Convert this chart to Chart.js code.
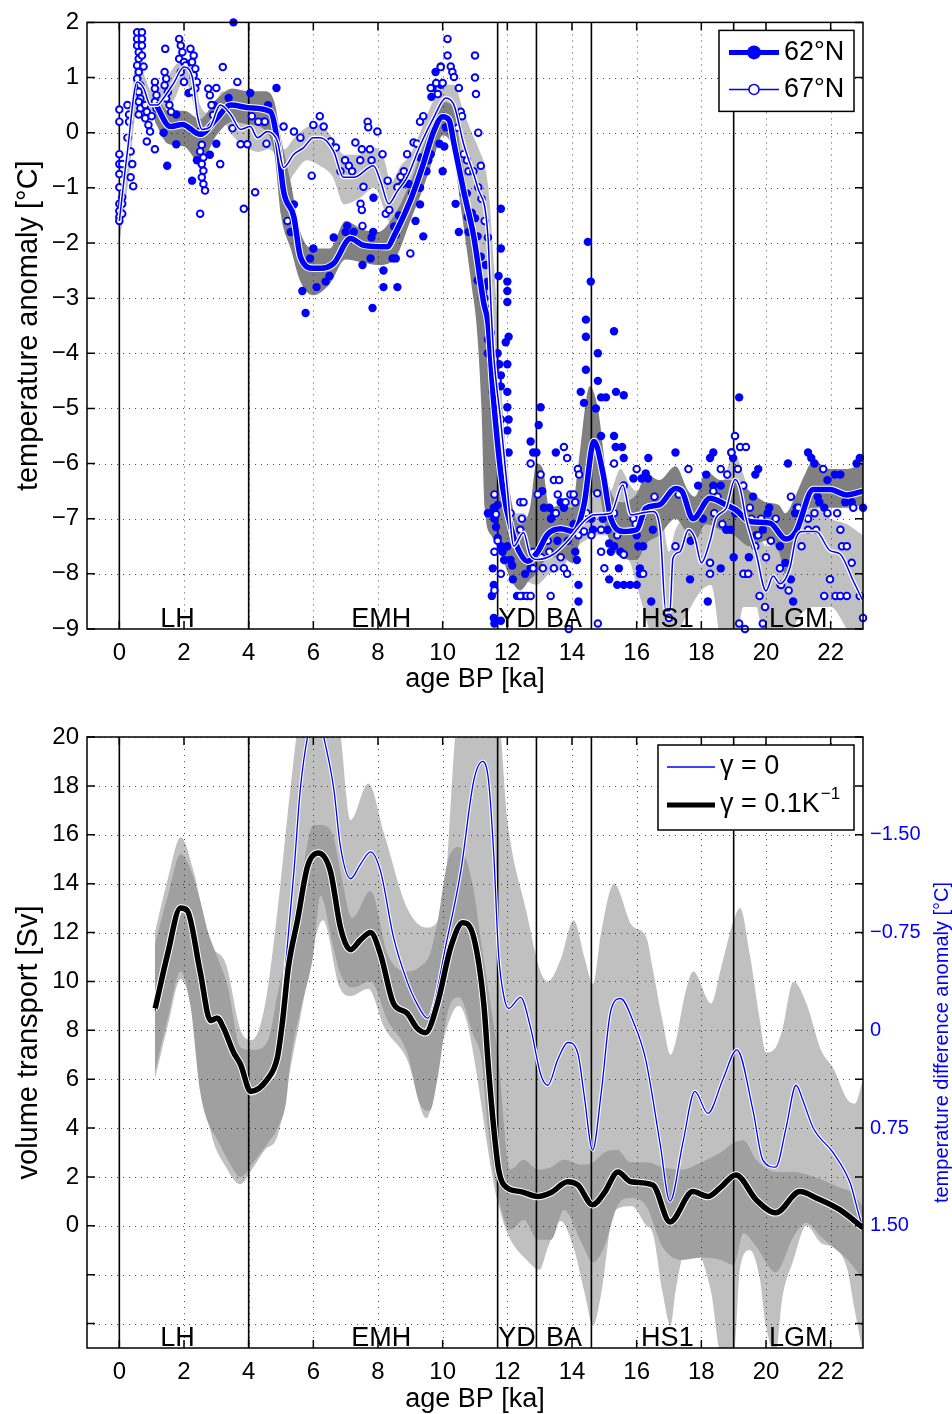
<!DOCTYPE html>
<html>
<head>
<meta charset="utf-8">
<title>Temperature anomaly and volume transport</title>
<script src="https://cdn.jsdelivr.net/npm/chart.js@4.4.1/dist/chart.umd.min.js"></script>
<style>
  body { margin: 0; background: #fff; }
  canvas { display: block; }
</style>
</head>
<body>
<canvas id="temp" width="952" height="700"></canvas>
<canvas id="transport" width="952" height="714"></canvas>
<script>
// ---- axes and period markers ----
const ageTicks = [0, 2, 4, 6, 8, 10, 12, 14, 16, 18, 20, 22];
const tempTicks = [-9, -8, -7, -6, -5, -4, -3, -2, -1, 0, 1, 2];
const transportTicks = [-4, -2, 0, 2, 4, 6, 8, 10, 12, 14, 16, 18, 20];
const diffTicks = [-1.5, -0.75, 0, 0.75, 1.5];
const diffTickLabels = ['\u22121.50', '\u22120.75', '0', '0.75', '1.50'];

const eventAges = [0, 4, 11.7, 12.9, 14.6, 19];
const periodNames = ['LH', 'EMH', 'YD', 'BA', 'HS1', 'LGM'];
const periodAges = [1.8, 8.1, 12.3, 13.75, 16.95, 21.0];

const seriesNames = ['62\u00b0N', '67\u00b0N'];

// ---- temperature anomaly, smoothed curves ----
const t62Age = [1.11, 1.58, 1.95, 2.5, 3.0, 3.44, 4.05, 4.67, 4.9, 5.08, 5.4, 5.6, 6.0, 6.22, 6.63,
  7.15, 7.55, 8.3, 8.48, 9.0, 9.4, 9.72, 10.0, 10.2, 10.35, 10.65, 10.96, 11.27, 11.4, 11.58,
  11.86, 12.17, 12.41, 12.63, 12.94, 13.25, 13.65, 14.05, 14.37, 14.68, 14.95, 15.2, 15.6, 16.0, 16.28,
  16.7, 17.2, 17.4, 17.74, 18.27, 18.77, 19.07, 19.5, 20.12, 20.62, 20.93, 21.46, 21.98, 22.5, 23.0];
const t62Temp = [0.54, 0.11, 0.15, -0.03, 0.25, 0.5, 0.45, 0.38, -0.2, -1.06, -1.53, -2.25, -2.46, -2.46, -2.37,
  -1.92, -2.04, -2.07, -1.89, -1.23, -0.57, 0.02, 0.29, 0.23, -0.2, -1.06, -1.88, -3.09, -3.45, -4.89,
  -6.45, -7.28, -7.64, -7.77, -7.6, -7.28, -7.18, -7.23, -6.75, -5.6, -6.15, -6.99, -7.23, -7.2, -6.81,
  -6.75, -6.45, -6.5, -7.0, -6.63, -6.75, -6.84, -7.05, -7.08, -7.37, -7.23, -6.47, -6.47, -6.57, -6.5];

const t67Age = [0.0, 0.25, 0.55, 0.75, 0.96, 1.17, 1.37, 1.68, 2.0, 2.26, 2.41, 2.56, 2.8, 3.12, 3.44,
  3.75, 4.05, 4.27, 4.58, 4.89, 5.08, 5.4, 5.7, 6.0, 6.22, 6.63, 6.93, 7.25, 7.86, 8.08,
  8.33, 8.6, 8.9, 9.32, 9.72, 10.1, 10.35, 10.65, 11.08, 11.4, 11.49, 11.58, 11.8, 12.0, 12.2,
  12.5, 12.7, 12.94, 13.44, 13.87, 14.37, 14.68, 15.2, 15.57, 15.82, 16.13, 16.5, 16.72, 16.9, 17.03,
  17.12, 17.34, 17.6, 17.8, 18.0, 18.27, 18.45, 18.77, 19.04, 19.2, 19.38, 19.7, 20.0, 20.22, 20.43,
  20.74, 20.93, 21.15, 21.55, 21.98, 22.29, 22.7, 23.0];
const t67Temp = [-1.6, -0.34, 0.92, 0.81, 0.5, 0.5, 0.63, 0.9, 1.19, 1.0, 0.33, 0.06, 0.1, 0.5, 0.33,
  0.06, 0.11, -0.09, 0.02, -0.16, -0.63, -0.39, -0.27, -0.09, -0.09, -0.34, -0.81, -0.81, -0.6, -0.88,
  -1.29, -1.06, -0.81, -0.21, 0.27, 0.63, 0.5, -0.21, -0.99, -1.88, -3.09, -4.04, -5.25, -6.45, -7.5,
  -7.25, -7.65, -7.74, -7.64, -7.4, -7.05, -6.93, -6.9, -6.39, -6.93, -6.9, -6.87, -7.17, -8.67, -8.67,
  -7.72, -7.6, -7.2, -7.35, -7.8, -7.4, -6.99, -6.81, -6.29, -6.45, -6.99, -7.64, -8.31, -8.04, -8.18,
  -7.89, -7.35, -7.23, -7.23, -7.58, -7.64, -8.13, -8.49];

// ---- temperature anomaly, uncertainty bands ----
const t67BandAge = [0.0, 0.3, 0.55, 0.8, 1.0, 1.3, 1.7, 2.0, 2.3, 2.5, 2.8, 3.2, 3.5, 3.9, 4.3,
  4.6, 4.9, 5.1, 5.4, 5.8, 6.2, 6.6, 6.95, 7.4, 7.9, 8.2, 8.4, 8.7, 9.0, 9.3,
  9.7, 10.1, 10.35, 10.65, 10.9, 11.1, 11.4, 11.6, 11.8, 12.0, 12.2, 12.5, 12.9, 13.3, 13.7,
  14.0, 14.4, 14.8, 15.2, 15.5, 15.8, 16.0, 16.5, 16.8, 17.0, 17.2, 17.5, 18.0, 18.3, 18.7,
  19.0, 19.3, 19.7, 20.0, 20.5, 21.0, 21.5, 22.0, 22.5, 23.0];
const t67BandHi = [-1.2, 0.1, 1.4, 1.0, 0.75, 0.85, 1.2, 1.35, 1.2, 0.5, 0.35, 0.75, 0.6, 0.35, 0.15,
  0.25, 0.1, -0.3, -0.1, 0.1, 0.15, -0.1, -0.4, -0.4, -0.27, -0.5, -0.9, -0.6, -0.4, 0.0,
  0.56, 0.87, 0.87, 0.38, 0.0, -0.27, -0.93, -2.5, -4.5, -6.0, -6.9, -6.9, -7.2, -7.0, -6.8,
  -6.6, -6.6, -6.6, -6.5, -6.1, -6.4, -6.5, -6.5, -7.0, -7.6, -7.2, -7.0, -7.2, -6.7, -6.3,
  -5.8, -6.2, -7.0, -7.5, -7.3, -6.8, -6.8, -7.0, -7.1, -7.3];
const t67BandLo = [-2.0, -0.8, 0.45, 0.45, 0.3, 0.35, 0.6, 0.95, 0.5, -0.2, -0.2, 0.2, -0.05, -0.25, -0.35,
  -0.3, -0.5, -1.0, -0.75, -0.5, -0.6, -0.8, -1.3, -1.2, -1.0, -1.4, -1.65, -1.35, -1.06, -0.6,
  -0.1, 0.27, 0.1, -0.75, -1.4, -2.3, -3.5, -5.5, -7.0, -7.8, -8.0, -8.1, -8.2, -8.0, -7.9,
  -7.6, -7.4, -7.3, -7.3, -7.6, -7.8, -8.2, -9.2, -9.5, -9.5, -9.2, -8.8, -8.3, -8.2, -9.5,
  -9.5, -8.6, -8.6, -9.5, -9.5, -8.8, -8.6, -8.6, -9.0, -9.5];

const t62BandAge = [1.1, 1.5, 2.0, 2.5, 3.0, 3.5, 4.0, 4.5, 4.8, 5.0, 5.3, 5.6, 6.0, 6.5, 7.0,
  7.5, 8.0, 8.5, 9.0, 9.4, 9.75, 10.0, 10.3, 10.6, 10.9, 11.05, 11.2, 11.3, 11.5, 11.7,
  11.9, 12.1, 12.4, 12.7, 12.9, 13.1, 13.3, 13.7, 14.0, 14.2, 14.55, 14.8, 15.1, 15.5, 16.0,
  16.3, 16.7, 17.2, 17.6, 17.8, 18.15, 18.6, 19.0, 19.5, 20.0, 20.4, 20.6, 20.9, 21.2, 21.45,
  22.0, 22.5, 23.0];
const t62BandHi = [0.75, 0.4, 0.4, 0.25, 0.6, 0.8, 0.75, 0.75, 0.55, -0.1, -0.9, -1.8, -2.1, -2.1, -1.6,
  -1.75, -1.8, -1.5, -0.9, -0.25, 0.3, 0.55, 0.5, -0.5, -1.5, -1.9, -2.4, -2.8, -3.5, -4.5,
  -5.6, -6.6, -7.1, -6.8, -6.0, -6.1, -6.8, -6.75, -6.8, -6.0, -4.6, -5.0, -6.3, -6.7, -6.55,
  -6.2, -6.3, -6.05, -6.5, -6.6, -6.15, -6.3, -6.3, -6.5, -6.7, -6.75, -6.9, -6.6, -6.2, -5.95,
  -6.1, -6.1, -6.0];
const t62BandLo = [0.2, -0.2, -0.25, -0.55, -0.05, 0.2, 0.15, 0.05, -0.4, -1.5, -2.1, -2.7, -2.95, -2.75, -2.3,
  -2.35, -2.4, -2.3, -1.6, -1.0, -0.4, -0.05, -0.3, -1.5, -2.8, -3.5, -5.0, -6.8, -7.3, -7.5,
  -7.8, -8.1, -8.3, -8.1, -8.0, -7.8, -7.7, -7.7, -7.8, -7.5, -6.6, -6.5, -7.3, -7.7, -7.75,
  -7.45, -7.3, -7.0, -7.3, -7.4, -7.1, -7.2, -7.3, -7.5, -7.4, -7.6, -8.0, -7.6, -6.9, -6.8,
  -6.8, -6.8, -6.75];

// ---- temperature anomaly, individual samples [age, value] ----
const samples62 = [
  [1.76, 0.33], [1.37, 0.0], [1.76, -0.21], [1.48, -0.6], [2.14, 0.72], [2.25, -0.87], [2.4, -0.5], [2.8, -0.4],
  [2.92, 0.5], [3.0, -0.2], [3.38, 0.63], [3.53, 2.0], [4.05, 0.72], [4.47, 0.2], [4.6, 0.5], [4.86, 0.81],
  [5.66, -2.87], [5.76, -3.27], [5.9, -2.28], [6.0, -2.1], [6.1, -2.8], [5.4, -1.3], [5.3, -1.8],
  [6.38, -2.7], [6.5, -2.6], [6.63, -1.9], [7.05, -1.69], [7.0, -1.8], [7.25, -1.8], [7.52, -2.4], [7.77, -2.28],
  [7.8, -1.9], [7.85, -1.8], [7.86, -1.18], [7.83, -3.18], [8.17, -2.5], [8.17, -2.8], [8.45, -2.28], [8.55, -2.28],
  [8.6, -2.8], [8.5, -1.7], [8.55, -1.85], [8.65, -1.5], [8.76, -0.93], [8.95, -0.93], [9.05, -1.1], [9.16, -1.6],
  [9.3, -1.3], [9.4, -1.88], [9.3, -1.0], [9.5, -0.7], [9.55, -0.5], [9.63, -0.39], [9.3, -0.45], [9.69, 0.81],
  [9.65, 0.65], [9.78, 1.1], [9.94, 0.87], [9.94, 1.2], [10.0, -0.7], [9.9, -0.2], [10.05, -0.25], [10.1, 0.1],
  [10.4, -1.29], [10.5, -1.8], [10.65, -1.11], [10.75, -1.1], [10.77, -1.53], [10.8, -1.8], [10.9, -1.45], [11.0, -1.55],
  [11.08, -1.88], [11.08, -2.68], [11.18, -2.25], [11.24, -2.9], [11.3, -3.0], [11.3, -2.8], [11.33, -3.18], [11.33, -2.4],
  [11.4, -2.7], [11.8, -1.38], [11.8, -2.1], [11.73, -2.6], [12.0, -2.7], [12.0, -2.87], [12.0, -3.07],
  [14.49, -1.98], [14.58, -2.7], [14.43, -3.39],
  [11.4, -3.75], [11.4, -4.0], [11.5, -4.2], [11.6, -4.3], [11.7, -4.0], [11.75, -4.2], [11.8, -4.4], [11.8, -4.6],
  [12.0, -4.2], [12.0, -4.7], [12.0, -4.98], [12.04, -5.2], [12.0, -5.4], [12.04, -5.8], [12.04, -3.7], [11.95, -3.8],
  [11.58, -6.8], [11.4, -6.9], [11.5, -6.9], [11.7, -6.75], [11.6, -7.0], [11.65, -7.15], [11.7, -7.35], [11.8, -7.5],
  [11.85, -7.6], [11.9, -7.75], [11.55, -7.9], [11.58, -8.2], [11.52, -8.4], [11.58, -8.8], [11.6, -8.9], [11.8, -8.85],
  [12.0, -7.5], [12.1, -7.75], [12.15, -7.85], [12.17, -8.1], [12.3, -8.4], [12.48, -8.4], [12.55, -8.0], [12.72, -7.9],
  [12.72, -5.6], [12.8, -5.8], [12.9, -5.8], [12.97, -5.3], [13.03, -4.98], [13.08, -6.5], [13.13, -6.8], [13.3, -6.8],
  [13.35, -7.0], [13.45, -6.9], [13.5, -5.8], [13.5, -7.2], [13.55, -7.4], [13.65, -6.7], [13.75, -6.8], [13.87, -7.4],
  [14.05, -7.1], [14.1, -7.6], [14.15, -7.75], [14.2, -8.2], [14.2, -8.5], [14.27, -4.7], [14.37, -4.9], [14.43, -4.3],
  [14.43, -3.7], [14.6, -7.0], [14.65, -7.2], [14.8, -4.0], [14.8, -4.5], [14.74, -5.0], [14.9, -4.8], [15.05, -4.8],
  [14.9, -5.5], [14.95, -7.0], [15.1, -7.2], [15.15, -7.45], [15.3, -5.5], [15.35, -5.7], [15.36, -4.7], [15.3, -3.6],
  [15.6, -4.76], [15.55, -5.7], [15.6, -5.9], [15.2, -7.6], [15.3, -7.5], [15.45, -7.9], [15.5, -7.6], [15.6, -7.65],
  [15.6, -8.2], [15.4, -8.2], [15.15, -8.1], [15.8, -8.2], [16.0, -7.3], [16.05, -7.5], [16.1, -7.9],
  [15.9, -6.27], [16.15, -6.27], [16.28, -6.18], [16.35, -6.27], [16.2, -7.5], [16.1, -8.0], [16.0, -8.2], [16.5, -7.2],
  [16.36, -5.9], [16.45, -8.5], [17.2, -5.8], [17.67, -7.4], [17.65, -8.1], [17.9, -6.4], [18.05, -7.0], [18.15, -6.2],
  [18.2, -8.5], [18.27, -5.9], [18.37, -5.8], [18.37, -6.4], [18.6, -6.4], [18.6, -7.9], [18.77, -7.2], [18.9, -7.2],
  [18.93, -5.8], [18.98, -5.9], [19.0, -7.7], [19.05, -6.9], [19.17, -4.8], [19.47, -7.7], [19.35, -8.0], [19.45, -8.0],
  [19.6, -6.6], [19.67, -6.2], [19.76, -6.1], [19.7, -7.3], [19.9, -7.2], [20.05, -6.9], [20.1, -6.8], [20.43, -7.5],
  [20.45, -8.2], [20.6, -7.8], [20.68, -6.0], [20.77, -8.1], [20.84, -8.5], [20.9, -6.9], [20.95, -6.8], [21.3, -5.8],
  [21.4, -5.9], [21.5, -6.0], [21.6, -6.6], [21.65, -6.7], [21.8, -6.8], [21.9, -6.3], [22.13, -6.2], [22.3, -6.2],
  [22.45, -6.7], [22.65, -6.7], [22.8, -6.0], [22.9, -5.9], [23.0, -6.8]
];
const samples67 = [
  [0.0, 0.42], [0.0, 0.2], [0.0, -0.39], [0.0, -0.57], [0.0, -0.75], [0.0, -0.99], [0.0, -1.29], [0.0, -1.42],
  [0.0, -1.53], [0.0, -1.6], [0.09, -0.57], [0.09, -1.17], [0.09, -1.29], [0.09, -1.47],
  [0.25, 0.5], [0.3, 0.33], [0.3, 0.2], [0.25, -0.09], [0.35, -0.34], [0.4, -0.57], [0.35, -0.81], [0.43, -0.97],
  [0.55, 1.82], [0.55, 1.7], [0.55, 1.58], [0.6, 1.46], [0.6, 1.34], [0.55, 1.22], [0.6, 1.1], [0.55, 0.98],
  [0.65, 0.86], [0.6, 0.74], [0.65, 0.62], [0.6, 0.56], [0.65, 0.44], [0.6, 0.33],
  [0.7, 1.82], [0.7, 1.7], [0.7, 1.58], [0.7, 1.4], [0.75, 1.2],
  [0.8, 0.5], [0.85, 0.38], [0.8, 0.26], [0.9, 0.14], [0.95, 0.02], [0.85, -0.16], [1.0, 0.3],
  [1.1, 0.92], [1.1, 0.8], [1.15, 0.68], [1.1, 0.56], [1.15, 0.44], [1.1, -0.3],
  [1.4, 1.1], [1.45, 0.98], [1.4, 0.86], [1.5, 0.74], [1.45, 0.62], [1.55, 0.5], [1.6, 0.38], [1.42, 1.52],
  [1.85, 1.7], [1.9, 1.58], [1.95, 1.46], [1.85, 1.34], [2.0, 1.28], [2.05, 1.22], [1.9, 1.1], [2.0, 0.92],
  [2.2, 1.52], [2.3, 1.4], [2.25, 1.28], [2.35, 1.16], [2.3, 1.04], [2.4, 0.92], [2.35, 0.8], [2.25, 0.74],
  [2.5, 0.02], [2.55, -0.22], [2.5, -0.34], [2.6, -0.45], [2.55, -0.57], [2.6, -0.69], [2.55, -0.81], [2.6, -0.93],
  [2.65, -1.05], [2.5, -1.47], [2.75, 0.8], [2.8, 0.68], [2.85, 0.5], [2.9, 0.32], [3.12, -0.57], [3.0, 0.81],
  [3.2, 1.19], [3.65, 0.92], [3.5, 0.08], [3.75, -0.21], [3.85, -1.38], [3.96, -0.21], [4.2, -1.08], [4.1, 0.3],
  [4.3, 0.2], [4.5, 0.2], [4.55, -0.2], [5.08, 0.11], [5.2, -1.6], [5.4, 0.02], [5.6, -0.09], [5.95, -0.78],
  [6.0, 0.14], [6.2, 0.3], [6.32, 0.11], [6.53, -0.16], [6.7, -0.27], [6.84, -0.7], [6.98, -0.5], [7.1, -0.6],
  [7.2, -0.7], [7.3, -0.18], [7.45, -0.5], [7.5, -0.3], [7.55, -0.98], [7.68, 0.2], [7.7, 0.1], [7.75, -0.3],
  [7.8, -0.5], [7.98, 0.02], [8.14, -0.39], [8.3, -0.87], [7.46, -1.29], [7.5, -1.4], [7.52, -1.69], [8.24, -1.47],
  [8.35, -1.4], [9.0, -2.19], [8.6, -0.99], [8.7, -0.8], [8.8, -0.7], [8.9, -0.39], [9.1, -0.18], [9.2, -0.2],
  [9.3, 0.2], [9.4, 0.3], [9.63, 0.81], [9.8, 0.9], [9.85, 0.7], [9.94, 1.19], [10.0, 0.9], [10.15, 1.7],
  [10.15, 1.4], [10.25, 1.2], [10.3, 1.1], [10.35, 1.01], [10.5, 0.81], [10.56, 0.38], [10.6, 0.3], [10.46, 0.09],
  [10.65, -0.39], [10.75, -0.5], [10.8, -0.7], [10.95, -0.7], [11.0, 1.4], [11.0, 1.0], [11.03, 0.7], [11.1, 0.0],
  [11.18, -0.6], [11.1, -0.99], [11.2, -1.2], [11.3, -1.6], [11.4, -1.9],
  [11.49, -3.63], [11.55, -4.2], [11.55, -4.7], [11.7, -4.5], [11.8, -5.2], [11.6, -6.56], [11.65, -6.92], [11.7, -7.4],
  [11.6, -7.6], [11.8, -8.0], [11.6, -8.3], [12.1, -6.9], [12.4, -6.7], [12.5, -6.7], [12.45, -7.0], [12.4, -7.2],
  [12.72, -6.0], [12.8, -7.9], [12.4, -8.4], [12.6, -8.4], [12.72, -8.4], [12.8, -7.6], [12.94, -6.56], [13.03, -6.2],
  [13.05, -7.7], [13.1, -7.9], [13.25, -7.4], [13.3, -7.6], [13.44, -6.3], [13.6, -6.3], [13.34, -8.4], [13.44, -7.9],
  [13.5, -6.9], [13.56, -6.56], [13.65, -7.7], [13.75, -7.9], [13.75, -5.7], [13.85, -5.9], [13.8, -6.7], [13.85, -8.0],
  [13.95, -6.56], [14.05, -6.56], [14.1, -6.7], [14.18, -6.1], [14.22, -6.2], [14.2, -7.3], [14.37, -7.23], [14.4, -7.0],
  [14.45, -6.9], [14.6, -7.3], [14.8, -8.9], [13.9, -9.0], [14.78, -6.54], [14.9, -7.2], [14.9, -7.6], [15.0, -7.9],
  [15.3, -6.9], [15.3, -6.0], [15.6, -6.4], [15.4, -7.3], [15.6, -7.65], [15.9, -7.0], [16.0, -6.1],
  [15.97, -7.1], [16.2, -8.0], [16.55, -6.6], [17.2, -7.5], [17.0, -8.8], [17.6, -6.1], [17.3, -6.56], [18.27, -7.8],
  [18.27, -8.0], [18.4, -6.9], [18.37, -6.5], [18.5, -6.6], [18.6, -6.1], [18.65, -7.1], [18.8, -6.2], [18.93, -5.8],
  [19.04, -5.5], [19.2, -5.7], [19.38, -5.7], [19.13, -6.1], [19.3, -6.4], [19.3, -8.0], [19.45, -8.0], [19.5, -6.8],
  [19.55, -7.0], [19.67, -7.5], [19.76, -7.3], [19.8, -8.4], [19.85, -7.0], [19.9, -8.9], [19.97, -8.6], [20.0, -7.7],
  [20.15, -7.4], [20.3, -7.0], [20.43, -7.9], [20.47, -8.2], [20.7, -8.3], [20.77, -6.6], [21.0, -6.8], [21.1, -7.5],
  [21.3, -7.0], [21.3, -7.2], [21.5, -6.9], [21.55, -7.2], [21.77, -6.1], [21.9, -6.9], [21.98, -8.1], [21.8, -8.4],
  [22.15, -8.4], [22.3, -8.4], [22.5, -8.4], [22.2, -6.9], [22.3, -7.2], [22.35, -7.5], [22.5, -7.5], [22.65, -7.8],
  [22.7, -6.8], [22.9, -8.4], [23.0, -8.8], [19.17, -8.9], [19.35, -9.0]
];

// ---- volume transport [Sv] ----
const gamma01Age = [1.11, 1.49, 1.89, 2.1, 2.5, 2.82, 3.03, 3.22, 3.53, 3.75, 4.06, 4.58, 4.89, 5.05, 5.23,
  5.51, 5.82, 6.15, 6.53, 6.84, 7.15, 7.46, 7.77, 8.08, 8.48, 8.9, 9.2, 9.47, 9.84, 10.25,
  10.62, 10.96, 11.27, 11.42, 11.58, 11.73, 12.0, 12.41, 12.94, 13.34, 13.87, 14.18, 14.64, 15.0, 15.42,
  15.82, 16.5, 17.03, 17.74, 18.2, 18.58, 19.07, 19.7, 20.3, 21.05, 21.55, 22.29, 23.0];
const gamma01Sv = [8.9, 11.1, 13.0, 12.9, 10.4, 8.4, 8.5, 8.1, 7.1, 6.6, 5.5, 6.0, 6.9, 8.4, 10.6,
  12.5, 14.7, 15.25, 14.5, 12.2, 11.3, 11.7, 12.0, 11.1, 9.1, 8.7, 8.1, 7.9, 9.1, 11.4,
  12.4, 11.8, 9.1, 6.4, 4.0, 2.3, 1.55, 1.4, 1.2, 1.35, 1.8, 1.67, 0.86, 1.35, 2.2,
  1.8, 1.67, 0.16, 1.4, 1.2, 1.55, 2.08, 1.06, 0.53, 1.4, 1.14, 0.65, -0.08];

const gamma0Age = [1.11, 1.49, 1.89, 2.1, 2.5, 2.82, 3.03, 3.22, 3.53, 3.75, 4.06, 4.58, 4.89, 5.08, 5.4,
  5.6, 5.9, 6.1, 6.32, 6.63, 6.84, 7.15, 7.46, 7.77, 8.08, 8.48, 8.9, 9.2, 9.53, 10.15,
  10.56, 10.96, 11.24, 11.42, 11.58, 11.73, 11.9, 12.04, 12.41, 12.72, 13.03, 13.25, 13.56, 13.87, 14.18,
  14.37, 14.64, 14.9, 15.2, 15.5, 15.91, 16.28, 16.72, 17.03, 17.43, 17.8, 18.2, 18.67, 19.1, 19.6,
  19.9, 20.3, 20.62, 20.93, 21.15, 21.46, 22.07, 22.6, 22.94, 23.0];
const gamma0Sv = [8.8, 11.0, 12.9, 12.8, 10.3, 8.3, 8.4, 8.0, 7.0, 6.5, 5.4, 5.9, 6.8, 9.75, 14.5,
  17.9, 20.5, 21.0, 20.0, 17.9, 15.5, 14.2, 14.8, 15.3, 14.5, 11.8, 10.0, 9.1, 8.5, 11.8,
  14.5, 18.2, 19.0, 18.2, 15.2, 11.1, 9.35, 8.9, 9.35, 8.1, 6.2, 5.75, 6.8, 7.5, 7.06,
  5.4, 3.1, 5.4, 8.8, 9.3, 8.3, 6.8, 3.4, 1.0, 3.4, 5.5, 4.6, 6.0, 7.2, 4.7,
  2.7, 2.4, 4.0, 5.75, 5.1, 4.0, 3.0, 1.76, 0.16, 0.0];

const wideBandAge = [1.1, 1.5, 1.9, 2.3, 2.8, 3.3, 3.75, 4.1, 4.5, 4.9, 5.3, 5.6, 6.3, 6.8, 7.15,
  7.7, 8.2, 8.9, 9.5, 10.0, 10.5, 11.7, 12.0, 12.6, 13.0, 13.25, 13.65, 14.05, 14.4, 14.65,
  14.9, 15.3, 15.85, 16.3, 16.5, 16.8, 17.05, 17.2, 17.5, 17.75, 18.3, 18.6, 19.0, 19.2, 19.5,
  19.8, 20.0, 20.3, 20.5, 20.85, 21.25, 21.7, 22.1, 22.5, 22.75, 23.0];
const wideBandHi = [12.0, 14.2, 15.9, 14.5, 11.6, 10.7, 8.0, 7.6, 9.0, 13.0, 18.0, 21.0, 22.0, 20.5, 16.6,
  18.1, 16.0, 13.0, 12.2, 13.0, 21.0, 21.0, 16.6, 12.8, 10.5, 10.0, 10.9, 12.5, 10.9, 9.9,
  12.0, 14.0, 12.3, 11.8, 10.5, 8.4, 7.0, 7.5, 9.5, 10.4, 9.1, 10.5, 12.5, 13.0, 11.1,
  8.5, 7.1, 7.3, 8.0, 10.0, 9.1, 7.2, 6.4, 5.2, 5.0, 6.0];
const wideBandLo = [6.0, 8.2, 10.1, 8.5, 4.0, 2.4, 1.7, 2.3, 3.1, 3.7, 6.5, 8.5, 12.5, 9.8, 9.4,
  9.7, 8.1, 6.8, 4.4, 7.5, 9.0, 1.0, -0.3, -1.4, -1.8, -0.9, 0.2, -0.9, -2.8, -4.1,
  -2.8, 0.6, 0.8, 0.0, -0.3, -2.7, -4.1, -2.7, -1.0, -0.9, -2.7, -5.2, -5.2, -1.7, -1.0,
  -2.1, -4.1, -5.2, -3.0, -1.4, 0.0, -0.7, -0.9, -1.7, -3.5, -5.2];

const coreBandAge = [1.1, 1.5, 1.9, 2.2, 2.5, 2.75, 3.0, 3.35, 3.75, 4.15, 4.6, 4.9, 5.15, 5.3, 5.6,
  6.0, 6.22, 6.6, 6.84, 7.2, 7.77, 8.3, 8.9, 9.3, 9.6, 9.85, 10.15, 10.5, 10.95, 11.2,
  11.4, 11.7, 12.1, 12.5, 12.95, 13.35, 13.75, 14.3, 14.65, 15.0, 15.4, 15.8, 16.3, 16.8, 17.4,
  18.0, 18.6, 19.0, 19.3, 19.7, 20.3, 20.85, 21.25, 21.7, 22.2, 22.6, 23.0];
const coreBandHi = [11.5, 13.5, 15.2, 14.6, 13.3, 12.0, 11.1, 9.8, 7.3, 7.2, 7.6, 9.5, 11.0, 12.0, 14.0,
  16.4, 16.4, 16.0, 14.5, 12.6, 13.7, 11.1, 10.4, 10.6, 11.1, 12.5, 14.9, 15.5, 13.8, 11.5,
  9.75, 7.1, 2.3, 2.7, 2.3, 2.4, 2.7, 2.5, 2.6, 3.0, 3.1, 2.6, 2.6, 2.4, 2.3,
  2.6, 3.0, 3.4, 3.5, 2.7, 2.2, 2.2, 2.1, 1.9, 1.6, 1.4, 0.8];
const coreBandLo = [6.3, 8.5, 10.4, 9.0, 5.5, 4.2, 3.6, 2.7, 2.0, 2.6, 3.4, 4.0, 5.0, 6.8, 8.8,
  11.1, 13.5, 11.5, 10.3, 9.75, 10.0, 8.4, 7.1, 5.0, 4.7, 6.1, 8.7, 9.35, 7.8, 6.8,
  4.0, 1.35, -0.16, 0.24, -0.57, -0.57, 0.65, -0.7, -1.5, -0.86, 0.8, 1.14, 0.8, -0.86, -1.4,
  -1.3, -1.4, -1.6, -0.3, -0.86, -1.9, -0.45, 0.12, -0.45, -1.0, -1.5, -2.2];

// ---- helpers ----
const BLUE = '#0000ff';
const FONT = '"Liberation Sans", Arial, sans-serif';
Chart.defaults.font.family = FONT;
Chart.defaults.color = '#000';

const pts = (xs, ys) => xs.map((x, i) => ({ x: x, y: ys[i] }));
const pairs = list => list.map(p => ({ x: p[0], y: p[1] }));
const tickLabel = v => (v < 0 ? '\u2212' + Math.abs(v) : String(v));
const fixTicks = list => scale => { scale.ticks = list.map(v => ({ value: v })); };

function curve(xs, ys, color, width) {
  return {
    type: 'line', data: pts(xs, ys), borderColor: color, borderWidth: width,
    pointRadius: 0, fill: false, cubicInterpolationMode: 'monotone', clip: 0
  };
}

function band(xs, hi, lo, color) {
  return [
    { type: 'line', data: pts(xs, hi), borderColor: 'rgba(0,0,0,0)', backgroundColor: color,
      pointRadius: 0, fill: '+1', cubicInterpolationMode: 'monotone', clip: 0 },
    { type: 'line', data: pts(xs, lo), borderColor: 'rgba(0,0,0,0)', pointRadius: 0,
      fill: false, cubicInterpolationMode: 'monotone', clip: 0 }
  ];
}

// first entry is drawn at the back
function stack(list) {
  list.forEach((d, i) => { d.order = -i; });
  return list;
}

// dotted grid + event lines drawn above the bands, box and inward ticks on top
const framePlugin = {
  id: 'frame',
  afterDatasetDraw(chart, args) {
    if (!chart.data.datasets[args.index].gridAfter) return;
    const ctx = chart.ctx, a = chart.chartArea, xs = chart.scales.x, ys = chart.scales.y;
    ctx.save();
    ctx.beginPath();
    ctx.rect(a.left, a.top, a.right - a.left, a.bottom - a.top);
    ctx.clip();
    ctx.strokeStyle = 'rgba(0,0,0,0.7)';
    ctx.lineWidth = 1;
    ctx.setLineDash([1, 5]);
    ctx.beginPath();
    xs.ticks.forEach(t => {
      const px = Math.round(xs.getPixelForValue(t.value)) + 0.5;
      ctx.moveTo(px, a.top); ctx.lineTo(px, a.bottom);
    });
    ys.ticks.forEach(t => {
      const py = Math.round(ys.getPixelForValue(t.value)) + 0.5;
      ctx.moveTo(a.left, py); ctx.lineTo(a.right, py);
    });
    ctx.stroke();
    ctx.setLineDash([]);
    ctx.strokeStyle = '#000';
    ctx.lineWidth = 1.6;
    ctx.beginPath();
    eventAges.forEach(v => {
      const px = xs.getPixelForValue(v);
      ctx.moveTo(px, a.top); ctx.lineTo(px, a.bottom);
    });
    ctx.stroke();
    ctx.restore();
  },
  afterDraw(chart) {
    const ctx = chart.ctx, a = chart.chartArea, xs = chart.scales.x, ys = chart.scales.y;
    ctx.save();
    ctx.fillStyle = '#000';
    ctx.font = '27px ' + FONT;
    ctx.textAlign = 'center';
    ctx.textBaseline = 'alphabetic';
    periodNames.forEach((name, i) => {
      ctx.fillText(name, xs.getPixelForValue(periodAges[i]), a.bottom - 2);
    });
    ctx.strokeStyle = '#000';
    ctx.lineWidth = 1.5;
    ctx.strokeRect(a.left, a.top, a.right - a.left, a.bottom - a.top);
    const len = 8;
    ctx.beginPath();
    xs.ticks.forEach(t => {
      const px = xs.getPixelForValue(t.value);
      ctx.moveTo(px, a.bottom); ctx.lineTo(px, a.bottom - len);
      ctx.moveTo(px, a.top); ctx.lineTo(px, a.top + len);
    });
    ys.ticks.forEach(t => {
      const py = ys.getPixelForValue(t.value);
      ctx.moveTo(a.left, py); ctx.lineTo(a.left + len, py);
      ctx.moveTo(a.right, py); ctx.lineTo(a.right - len, py);
    });
    ctx.stroke();
    ctx.restore();
  }
};

const tempLegend = {
  id: 'tempLegend',
  afterDraw(chart) {
    const ctx = chart.ctx, a = chart.chartArea;
    const w = 135, h = 81, left = a.right - 9 - w, top = a.top + 8;
    const x0 = left + 10, x1 = left + 60, xm = (x0 + x1) / 2;
    const r1 = top + 22, r2 = top + 59;
    ctx.save();
    ctx.fillStyle = '#fff';
    ctx.fillRect(left, top, w, h);
    ctx.strokeStyle = '#000';
    ctx.lineWidth = 1.5;
    ctx.strokeRect(left, top, w, h);
    ctx.strokeStyle = BLUE;
    ctx.fillStyle = BLUE;
    ctx.lineWidth = 5;
    ctx.beginPath(); ctx.moveTo(x0, r1); ctx.lineTo(x1, r1); ctx.stroke();
    ctx.beginPath(); ctx.arc(xm, r1, 7, 0, Math.PI * 2); ctx.fill();
    ctx.lineWidth = 1.5;
    ctx.beginPath(); ctx.moveTo(x0, r2); ctx.lineTo(x1, r2); ctx.stroke();
    ctx.fillStyle = '#fff';
    ctx.beginPath(); ctx.arc(xm, r2, 5, 0, Math.PI * 2); ctx.fill(); ctx.stroke();
    ctx.fillStyle = '#000';
    ctx.font = '27px ' + FONT;
    ctx.textBaseline = 'middle';
    ctx.fillText(seriesNames[0], x1 + 5, r1);
    ctx.fillText(seriesNames[1], x1 + 5, r2);
    ctx.restore();
  }
};

const transportLegend = {
  id: 'transportLegend',
  afterDraw(chart) {
    const ctx = chart.ctx, a = chart.chartArea;
    const w = 196, h = 85, left = a.right - 9 - w, top = a.top + 8;
    const x0 = left + 9, x1 = left + 57;
    const r1 = top + 22, r2 = top + 60;
    ctx.save();
    ctx.fillStyle = '#fff';
    ctx.fillRect(left, top, w, h);
    ctx.strokeStyle = '#000';
    ctx.lineWidth = 1.5;
    ctx.strokeRect(left, top, w, h);
    ctx.strokeStyle = BLUE;
    ctx.lineWidth = 1.3;
    ctx.beginPath(); ctx.moveTo(x0, r1); ctx.lineTo(x1, r1); ctx.stroke();
    ctx.strokeStyle = '#000';
    ctx.lineWidth = 5;
    ctx.beginPath(); ctx.moveTo(x0, r2); ctx.lineTo(x1, r2); ctx.stroke();
    ctx.fillStyle = '#000';
    ctx.font = '27px ' + FONT;
    ctx.textBaseline = 'middle';
    ctx.fillText('\u03b3 = 0', x1 + 5, r1);
    const main = '\u03b3 = 0.1K';
    ctx.fillText(main, x1 + 5, r2);
    const mw = ctx.measureText(main).width;
    ctx.font = '17px ' + FONT;
    ctx.fillText('\u22121', x1 + 5 + mw + 1, r2 - 11);
    // right axis title, reading bottom to top
    ctx.translate(a.right + 79, (a.top + a.bottom) / 2);
    ctx.rotate(-Math.PI / 2);
    ctx.fillStyle = BLUE;
    ctx.font = '20px ' + FONT;
    ctx.textAlign = 'center';
    ctx.fillText('temperature difference anomaly [\u00b0C]', 0, 0);
    ctx.restore();
  }
};

const baseOptions = {
  responsive: false,
  animation: false,
  devicePixelRatio: 1,
  events: [],
  plugins: { legend: { display: false }, tooltip: { enabled: false } }
};

function ageAxis(height, titlePad) {
  return {
    type: 'linear', min: -1, max: 23,
    afterBuildTicks: fixTicks(ageTicks),
    afterFit: s => { s.height = height; },
    grid: { display: false, drawTicks: false }, border: { display: false },
    ticks: { font: { size: 24 }, color: '#000', padding: 10, maxRotation: 0, autoSkip: false, callback: tickLabel },
    title: { display: true, text: 'age BP [ka]', color: '#000', font: { size: 27, lineHeight: 1 },
             padding: { top: 0, bottom: titlePad } }
  };
}

// ---- upper panel: temperature anomaly ----
new Chart(document.getElementById('temp'), {
  type: 'line',
  data: {
    datasets: stack([
      ...band(t67BandAge, t67BandHi, t67BandLo, '#c0c0c0'),
      ...band(t62BandAge, t62BandHi, t62BandLo, '#808080'),
      { type: 'scatter', data: [], gridAfter: true },
      { type: 'scatter', data: pairs(samples62), pointRadius: 4.2, pointBackgroundColor: BLUE,
        pointBorderColor: BLUE, pointBorderWidth: 0, clip: false },
      { type: 'scatter', data: pairs(samples67), pointRadius: 3.3, pointBackgroundColor: '#fff',
        pointBorderColor: BLUE, pointBorderWidth: 1.9, clip: false },
      curve(t62Age, t62Temp, '#fff', 7.5),
      curve(t62Age, t62Temp, BLUE, 5.5),
      curve(t67Age, t67Temp, '#fff', 4),
      curve(t67Age, t67Temp, BLUE, 1.5)
    ])
  },
  options: Object.assign({}, baseOptions, {
    layout: { padding: { left: 0, right: 89, top: 17, bottom: 0 } },
    scales: {
      x: ageAxis(71, 7),
      y: {
        type: 'linear', min: -9, max: 2,
        afterBuildTicks: fixTicks(tempTicks),
        afterFit: s => { s.width = 87; },
        grid: { display: false, drawTicks: false }, border: { display: false },
        ticks: { font: { size: 24 }, color: '#000', padding: 8, autoSkip: false, callback: tickLabel },
        title: { display: true, text: 'temperature anomaly [\u00b0C]', color: '#000',
                 font: { size: 29, lineHeight: 1 }, padding: { top: 14, bottom: 0 } }
      }
    }
  }),
  plugins: [framePlugin, tempLegend]
});

// ---- lower panel: volume transport ----
new Chart(document.getElementById('transport'), {
  type: 'line',
  data: {
    datasets: stack([
      ...band(wideBandAge, wideBandHi, wideBandLo, '#c0c0c0'),
      ...band(coreBandAge, coreBandHi, coreBandLo, '#a0a0a0'),
      { type: 'scatter', data: [], gridAfter: true },
      curve(gamma0Age, gamma0Sv, '#fff', 3.5),
      curve(gamma0Age, gamma0Sv, BLUE, 1.3),
      curve(gamma01Age, gamma01Sv, '#fff', 7.5),
      curve(gamma01Age, gamma01Sv, '#000', 5.5)
    ])
  },
  options: Object.assign({}, baseOptions, {
    layout: { padding: { left: 0, right: 0, top: 37, bottom: 0 } },
    scales: {
      x: ageAxis(66, 1),
      y: {
        type: 'linear', position: 'left', min: -5, max: 20,
        afterBuildTicks: fixTicks(transportTicks),
        afterFit: s => { s.width = 87; },
        grid: { display: false, drawTicks: false }, border: { display: false },
        ticks: { font: { size: 24 }, color: '#000', padding: 8, autoSkip: false,
                 callback: v => (v < 0 ? '' : tickLabel(v)) },
        title: { display: true, text: 'volume transport [Sv]', color: '#000',
                 font: { size: 29, lineHeight: 1 }, padding: { top: 14, bottom: 0 } }
      },
      y2: {
        type: 'linear', position: 'right', reverse: true, min: -2.25, max: 2.4375,
        afterBuildTicks: fixTicks(diffTicks),
        afterFit: s => { s.width = 89; },
        grid: { display: false, drawTicks: false }, border: { display: false },
        ticks: { font: { size: 20 }, color: BLUE, padding: 7, autoSkip: false,
                 callback: v => diffTickLabels[diffTicks.indexOf(v)] }
      }
    }
  }),
  plugins: [framePlugin, transportLegend]
});
</script>
</body>
</html>
